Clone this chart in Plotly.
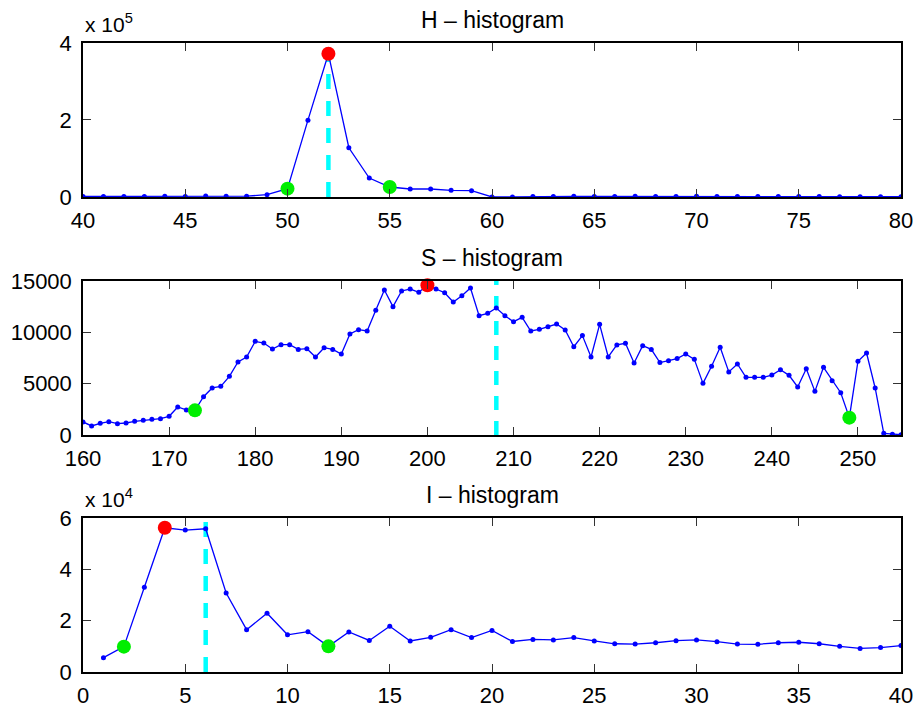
import plotly.graph_objects as go

# ---------------- data ----------------
h_x = list(range(40, 81))
h_y = [1500, 1500, 1200, 1500, 2000, 1000, 2500, 2000, 2000, 6000,
       21600, 199600, 372000, 127900, 49200, 25900, 20700, 20700, 17300, 16400,
       0, 0, 1200, 1500, 1800, 1500, 1500, 2000, 1500, 1500,
       2000, 1500, 1200, 1200, 1200, 1500, 1200, 800, 800, 800, 800]
h_peak = (52, 372000)
h_green_x = [50, 55]
h_green_y = [21600, 25900]
h_cut = 52

s_x = list(range(160, 256))
s_y = [1270, 880, 1140, 1300, 1100, 1170, 1330, 1430, 1530, 1590,
       1820, 2730, 2440, 2400, 3730, 4580, 4740, 5710, 7110, 7600,
       9120, 8960, 8380, 8800, 8800, 8340, 8410, 7600, 8500, 8340,
       7890, 9840, 10260, 10130, 12140, 14120, 12500, 14030, 14220, 13900,
       14580, 14220, 13860, 12950, 13570, 14320, 11620, 11850, 12370, 11620,
       11040, 11460, 10130, 10290, 10550, 10810, 10230, 8600, 9680, 7600,
       10780, 7600, 8770, 8930, 7010, 8700, 8340, 7050, 7240, 7440,
       7890, 7370, 5030, 6690, 8540, 6140, 6920, 5620, 5620, 5620,
       5840, 6360, 5810, 4680, 6460, 4250, 6590, 5290, 4120, 1690,
       7180, 7990, 4580, 160, 60, 30]
s_peak = (200, 14580)
s_green_x = [173, 249]
s_green_y = [2400, 1690]
s_cut = 208

i_x = list(range(1, 41))
i_y = [5580, 9870, 33000, 56200, 55300, 55800, 30800, 16500, 22900, 14500,
       15700, 10000, 15600, 12300, 17800, 12100, 13500, 16500, 13400, 16200,
       11900, 12700, 12500, 13400, 12100, 11000, 10900, 11400, 12200, 12500,
       11800, 10900, 10800, 11400, 11600, 11000, 10000, 9200, 9500, 10300]
i_peak = (4, 56200)
i_green_x = [2, 12]
i_green_y = [9870, 10000]
i_cut = 6

panels = [
    dict(title="H \u2013 histogram", x=h_x, y=h_y, peak=h_peak, gx=h_green_x, gy=h_green_y,
         cut=h_cut, xr=[40, 80], xt=list(range(40, 81, 5)), yr=[0, 4e5],
         yt=[0, 2e5, 4e5], ytt=["0", "2", "4"], exp="5", dash="15px,12px"),
    dict(title="S \u2013 histogram", x=s_x, y=s_y, peak=s_peak, gx=s_green_x, gy=s_green_y,
         cut=s_cut, xr=[160, 255], xt=list(range(160, 251, 10)), yr=[0, 15000],
         yt=[0, 5000, 10000, 15000], ytt=["0", "5000", "10000", "15000"], exp=None,
         dash="14px,11px"),
    dict(title="I \u2013 histogram", x=i_x, y=i_y, peak=i_peak, gx=i_green_x, gy=i_green_y,
         cut=i_cut, xr=[0, 40], xt=list(range(0, 41, 5)), yr=[0, 6e4],
         yt=[0, 2e4, 4e4, 6e4], ytt=["0", "2", "4", "6"], exp="4", dash="15px,12px"),
]

domains = [[0.7552, 1.0], [0.3768, 0.6216], [0.0, 0.2448]]
FONT = "Liberation Sans, Arial, Helvetica, sans-serif"
FS = 22

fig = go.Figure()
annotations = []
shapes = []
layout = {}

for k, p in enumerate(panels):
    n = k + 1
    xa = "x" if n == 1 else f"x{n}"
    ya = "y" if n == 1 else f"y{n}"
    fig.add_trace(go.Scatter(x=p["x"], y=p["y"], mode="lines+markers", xaxis=xa, yaxis=ya,
                             line=dict(color="#0000ff", width=1.3),
                             marker=dict(color="#0000ff", size=5), showlegend=False,
                             hoverinfo="x+y"))
    fig.add_trace(go.Scatter(x=[p["peak"][0]], y=[p["peak"][1]], mode="markers", xaxis=xa, yaxis=ya,
                             marker=dict(color="#ff0000", size=14), showlegend=False,
                             cliponaxis=False))
    fig.add_trace(go.Scatter(x=p["gx"], y=p["gy"], mode="markers", xaxis=xa, yaxis=ya,
                             marker=dict(color="#00ee00", size=14), showlegend=False,
                             cliponaxis=False))
    shapes.append(dict(type="line", xref=xa, yref=f"{ya} domain", x0=p["cut"], x1=p["cut"],
                       y0=0, y1=1, layer="below",
                       line=dict(color="#00ffff", width=4.5, dash=p["dash"])))
    axis_common = dict(showline=True, linecolor="black", linewidth=1.5, mirror="ticks",
                       ticks="inside", ticklen=8, tickwidth=1.2, tickcolor="#333333",
                       showgrid=False, zeroline=False, automargin=False,
                       tickfont=dict(family=FONT, size=FS, color="black"))
    layout["xaxis" if n == 1 else f"xaxis{n}"] = dict(
        domain=[0, 1], anchor=ya, range=p["xr"], tickvals=p["xt"],
        ticktext=[str(v) for v in p["xt"]], ticklabelstandoff=3, **axis_common)
    layout["yaxis" if n == 1 else f"yaxis{n}"] = dict(
        domain=domains[k], anchor=xa, range=p["yr"], tickvals=p["yt"], ticktext=p["ytt"],
        ticklabelstandoff=5, **axis_common)
    annotations.append(dict(text=p["title"], xref="paper", yref="paper", x=0.5,
                            y=domains[k][1], xanchor="center", yanchor="bottom", yshift=8,
                            showarrow=False, font=dict(family=FONT, size=FS + 1, color="black")))
    if p["exp"]:
        annotations.append(dict(text=f"x 10<sup>{p['exp']}</sup>", xref="paper", yref="paper",
                                x=0, y=domains[k][1], xanchor="left", yanchor="bottom",
                                yshift=5, showarrow=False,
                                font=dict(family=FONT, size=FS - 1, color="black")))

fig.update_layout(
    width=917, height=707,
    margin=dict(l=83, r=16, t=43, b=35, autoexpand=False),
    paper_bgcolor="white", plot_bgcolor="white",
    annotations=annotations, shapes=shapes,
    **layout,
)

fig.write_html("out.html")
